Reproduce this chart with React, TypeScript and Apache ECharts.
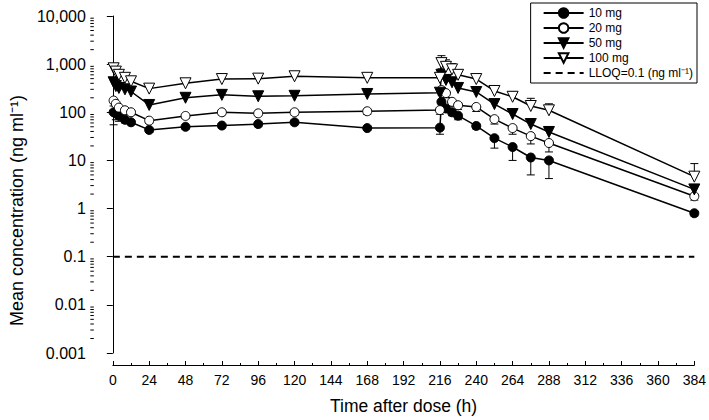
import React, { useEffect, useRef } from "react";
import * as echarts from "echarts";

// Sampling times (h)
const times = [0.5, 2, 4, 8, 12, 24, 48, 72, 96, 120, 168, 216, 217, 220, 224, 228, 240, 252, 264, 276, 288, 384];

// Mean concentrations (ng/ml) and SD
const mg10 = [100, 95, 85, 70, 62, 43, 50, 53, 57, 62, 47, 48, 165, 120, 100, 85, 52, 29, 19, 11.5, 10, 0.8];
const sd10 = [45, 25, 20, 10, 7, 5, 5, 6, 7, 7, 4, 13, 35, 20, 15, 15, 7, 11, 9, 6.5, 5.8, 0.1];

const mg20 = [175, 150, 125, 110, 100, 67, 84, 100, 95, 100, 105, 111, 290, 250, 165, 140, 129, 72, 47, 32, 23, 1.8];
const sd20 = [40, 30, 25, 15, 12, 8, 10, 12, 10, 12, 15, 20, 60, 50, 30, 25, 25, 15, 12, 10, 8, 0.3];

const mg50 = [420, 350, 320, 300, 270, 142, 200, 230, 215, 220, 240, 255, 600, 470, 420, 320, 264, 148, 92, 57, 39, 2.5];
const sd50 = [100, 80, 60, 50, 40, 20, 30, 40, 30, 35, 40, 50, 200, 100, 80, 60, 50, 35, 25, 15, 10, 0.6];

const mg100 = [820, 700, 600, 520, 440, 310, 400, 490, 500, 560, 520, 520, 1050, 880, 780, 600, 490, 277, 210, 135, 110, 4.6];
const sd100 = [150, 150, 100, 80, 70, 40, 100, 110, 100, 130, 100, 120, 450, 350, 250, 150, 100, 70, 60, 60, 40, 4];

const lloq = 0.1;
const lloqRange = [0, 384];

const seriesNames = ["10 mg", "20 mg", "50 mg", "100 mg"];
const lloqName = "LLOQ=0.1 (ng ml\u207B\u00B9)";

const yTickLabels = ["0.001", "0.01", "0.1", "1", "10", "100", "1,000", "10,000"];
const minorMultipliers = [2, 3, 4, 5, 6, 7, 8, 9];
const decades = [0.001, 0.01, 0.1, 1, 10, 100, 1000];

const FONT = "'Liberation Sans', Arial, sans-serif";
const Y_OFFSET = 19;

function errorSeries(name: string, vals: number[], sds: number[], dir: number) {
  return {
    type: "custom",
    name: name + " err",
    silent: true,
    clip: false,
    z: 1,
    data: times.map((t, i) => [t, vals[i], vals[i] + dir * sds[i]]),
    encode: { x: 0, y: [1, 2] },
    renderItem: (_p: any, api: any) => {
      const t = api.value(0);
      const m = api.value(1);
      const e = api.value(2);
      const p0 = api.coord([t, m]);
      const p1 = api.coord([t, e]);
      return {
        type: "group",
        children: [
          { type: "line", shape: { x1: p0[0], y1: p0[1], x2: p1[0], y2: p1[1] }, style: { stroke: "#000", lineWidth: 1 } },
          { type: "line", shape: { x1: p1[0] - 4, y1: p1[1], x2: p1[0] + 4, y2: p1[1] }, style: { stroke: "#000", lineWidth: 1 } },
        ],
      };
    },
  };
}

function lineSeries(name: string, vals: number[], symbol: string, filled: boolean) {
  const tri = symbol === "triangle";
  return {
    type: "line",
    name,
    z: 3,
    data: times.map((t, i) => [t, vals[i]]),
    symbol,
    symbolRotate: tri ? 180 : 0,
    symbolSize: tri ? 11 : 9,
    itemStyle: { color: filled ? "#000" : "#fff", borderColor: "#000", borderWidth: 1 },
    lineStyle: { color: "#000", width: 1.5 },
  };
}

export default function App() {
  const ref = useRef<HTMLDivElement>(null);
  useEffect(() => {
    const chart = echarts.init(ref.current!, null, { renderer: "svg" });
    const minorTicks: number[] = [];
    decades.forEach((d) => minorMultipliers.forEach((m) => minorTicks.push(m * d)));

    const option: any = {
      animation: false,
      backgroundColor: "#fff",
      textStyle: { fontFamily: FONT, color: "#000" },
      grid: { left: 107, right: 11, top: 16, bottom: 67, containLabel: false },
      legend: {
        data: [
          ...seriesNames,
          { name: lloqName, itemStyle: { color: "rgba(0,0,0,0)", borderWidth: 0, opacity: 0 } },
        ],
        orient: "vertical",
        right: 12,
        top: 3,
        itemWidth: 40,
        itemHeight: 12,
        itemGap: 3,
        padding: [4, 4, 4, 12],
        borderColor: "#000",
        borderWidth: 1,
        backgroundColor: "#fff",
        textStyle: { fontFamily: FONT, fontSize: 12, color: "#000" },
      },
      xAxis: {
        type: "value",
        min: 0,
        max: 384,
        interval: 24,
        offset: 12,
        name: "Time after dose (h)",
        nameLocation: "middle",
        nameGap: 32,
        nameTextStyle: { fontFamily: FONT, fontSize: 17.5, color: "#000" },
        axisLine: { show: true, lineStyle: { color: "#000", width: 1 } },
        axisTick: { show: true, inside: true, length: 4, lineStyle: { color: "#000" } },
        minorTick: { show: true, splitNumber: 2, length: 2, lineStyle: { color: "#000" } },
        splitLine: { show: false },
        axisLabel: { fontFamily: FONT, fontSize: 14, color: "#000", margin: 8 },
      },
      yAxis: {
        type: "log",
        logBase: 10,
        min: 0.001,
        max: 10000,
        offset: Y_OFFSET,
        name: "Mean concentration (ng ml\u207B\u00B9)",
        nameLocation: "middle",
        nameGap: 66,
        nameTextStyle: { fontFamily: FONT, fontSize: 18, color: "#000", padding: [0, 52, 0, 0] },
        axisLine: { show: true, lineStyle: { color: "#000", width: 1 } },
        axisTick: { show: true, inside: false, length: 6, lineStyle: { color: "#000" } },
        splitLine: { show: false },
        axisLabel: {
          fontFamily: FONT,
          fontSize: 16,
          color: "#000",
          margin: 8,
          formatter: (v: number) => yTickLabels[Math.round(Math.log10(v)) + 3],
        },
      },
      series: [
        {
          type: "custom",
          name: "minorTicks",
          silent: true,
          clip: false,
          data: minorTicks.map((v) => [0, v]),
          encode: { x: 0, y: 1 },
          renderItem: (_p: any, api: any) => {
            const p = api.coord([api.value(0), api.value(1)]);
            const x = p[0] - Y_OFFSET;
            return { type: "line", shape: { x1: x - 3.5, y1: p[1], x2: x, y2: p[1] }, style: { stroke: "#000", lineWidth: 1 } };
          },
        },
        errorSeries("10 mg", mg10, sd10, -1),
        errorSeries("20 mg", mg20, sd20, -1),
        errorSeries("50 mg", mg50, sd50, 1),
        errorSeries("100 mg", mg100, sd100, 1),
        lineSeries("10 mg", mg10, "circle", true),
        lineSeries("20 mg", mg20, "circle", false),
        lineSeries("50 mg", mg50, "triangle", true),
        lineSeries("100 mg", mg100, "triangle", false),
        {
          type: "line",
          name: lloqName,
          data: lloqRange.map((t) => [t, lloq]),
          symbol: "none",
          lineStyle: { color: "#000", width: 2, type: [7, 5] },
          itemStyle: { color: "#000" },
        },
      ],
    };
    chart.setOption(option);
    return () => chart.dispose();
  }, []);
  return (
    <div
      ref={ref}
      style={{ position: "fixed", left: 0, top: 0, width: 709, height: 420, background: "#fff" }}
    />
  );
}
